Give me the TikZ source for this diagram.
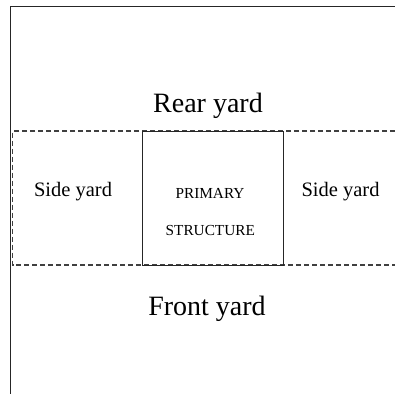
\documentclass[tikz,border=0pt]{standalone}
\usepackage{fontspec}
\setmainfont{Liberation Serif}
\tikzset{
  bigyard/.style={anchor=base,inner sep=0pt,font=\fontsize{28}{30}\selectfont},
  sideyard/.style={anchor=base,inner sep=0pt,font=\fontsize{20.5}{22}\selectfont},
  smalllabel/.style={anchor=base,inner sep=0pt,font=\fontsize{15.3}{17}\selectfont},
  boundary/.style={line width=1.3pt,black!85},
  setback/.style={line width=1.1pt,black!75,dash pattern=on 5pt off 3pt},
}
\begin{document}
\begin{tikzpicture}[x=1pt,y=-1pt]
\useasboundingbox (0,0) rectangle (395,394);
% property boundary
\draw[boundary] (395,6.5) -- (10.5,6.5) -- (10.5,394);
% setback (dashed) lines
\draw[setback] (395,131) -- (12.5,131) -- (12.5,265) -- (395,265);
% primary structure
\node[draw,boundary,minimum width=141pt,minimum height=134pt,inner sep=0pt,anchor=north west] (ps) at (142,131) {};
\node[smalllabel] (ps1) at (210,198.3) {PRIMARY};
\node[smalllabel] (ps2) at (210.3,235) {STRUCTURE};
% yard labels
\node[bigyard] (rear) at (208,112) {Rear yard};
\node[bigyard] (front) at (207,315.7) {Front yard};
\node[sideyard] (sl) at (73,196.7) {Side yard};
\node[sideyard] (sr) at (340.5,196.7) {Side yard};
\end{tikzpicture}
\end{document}
